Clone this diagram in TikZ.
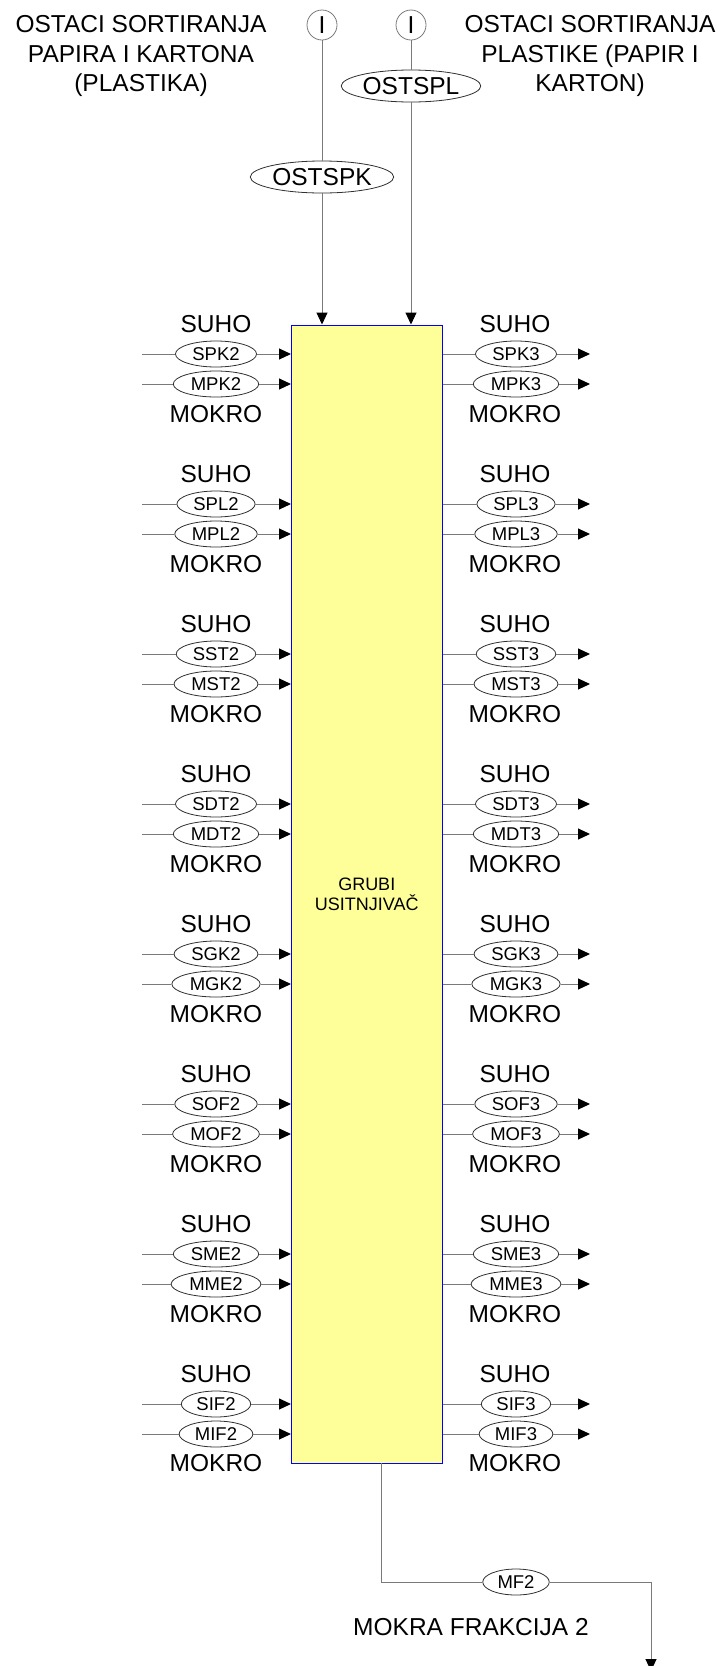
\documentclass[tikz,border=0pt]{standalone}
\usepackage{fontspec}
\setmainfont{Liberation Sans}
\usepackage{xcolor}
\usepackage{tikz}
\usetikzlibrary{arrows.meta,shapes.geometric}
\definecolor{flowgray}{HTML}{7A7A7A}
\definecolor{edge}{HTML}{303030}
\definecolor{boxfill}{HTML}{FFFF99}
\definecolor{boxblue}{HTML}{0000FF}

\begin{document}
\begin{tikzpicture}[x=1pt,y=-1pt,
   lbl/.style={inner sep=0pt,font=\fontsize{24.5}{29.5}\selectfont},
   tok/.style={draw=edge,ellipse,fill=white,line width=0.8pt,inner xsep=5pt,inner ysep=1pt,minimum height=26pt,font=\fontsize{18.5}{20}\selectfont},
   bigtok/.style={tok,inner xsep=1pt,minimum height=32pt,font=\fontsize{24.5}{28}\selectfont},
   src/.style={draw=flowgray,circle,line width=0.8pt,minimum size=30pt,inner sep=0pt,font=\fontsize{24.5}{28}\selectfont},
   con/.style={draw=flowgray,line width=1pt,-{Triangle[length=12pt,width=11pt,color=black]}}]
\useasboundingbox (0,0) rectangle (724,1666);
% shredder
\node[draw=boxblue,fill=boxfill,line width=1pt,inner sep=0pt,minimum width=150.5pt,minimum height=1138pt,align=center,font=\fontsize{18}{20}\selectfont] (box) at (366.75,894) {GRUBI\\USITNJIVAČ};
% sources on top
\node[lbl,align=center] (srcL) at (141,56) {OSTACI SORTIRANJA\\PAPIRA I KARTONA\\(PLASTIKA)};
\node[lbl,align=center] (srcR) at (590,56) {OSTACI SORTIRANJA\\PLASTIKE (PAPIR I\\KARTON)};
\node[src] (i1) at (322,25) {I};
\node[src] (i2) at (411,25) {I};
\node[bigtok] (ostspk) at (322,177) {OSTSPK};
\node[bigtok] (ostspl) at (411,86) {OSTSPL};
\draw[con] (i1) -- (ostspk) -- (i1 |- box.north);
\draw[con] (i2) -- (ostspl) -- (i2 |- box.north);
% papir i karton
\node[lbl] (suL1) at (216,324) {SUHO};  \node[lbl] (suR1) at (515,324) {SUHO};
\node[lbl] (moL1) at (216,414) {MOKRO}; \node[lbl] (moR1) at (515,414) {MOKRO};
\node[tok] (spk2) at (216,354) {SPK2}; \node[tok] (spk3) at (516,354) {SPK3};
\node[tok] (mpk2) at (216,384) {MPK2}; \node[tok] (mpk3) at (516,384) {MPK3};
\coordinate (a1) at (142,354); \coordinate (b1) at (142,384); \coordinate (c1) at (590,354); \coordinate (d1) at (590,384);
\draw[con] (a1) -- (spk2) -- (spk2 -| box.west); \draw[con] (b1) -- (mpk2) -- (mpk2 -| box.west);
\draw[con] (spk3 -| box.east) -- (spk3) -- (c1); \draw[con] (mpk3 -| box.east) -- (mpk3) -- (d1);
% plastika
\node[lbl] (suL2) at (216,474) {SUHO};  \node[lbl] (suR2) at (515,474) {SUHO};
\node[lbl] (moL2) at (216,564) {MOKRO}; \node[lbl] (moR2) at (515,564) {MOKRO};
\node[tok] (spl2) at (216,504) {SPL2}; \node[tok] (spl3) at (516,504) {SPL3};
\node[tok] (mpl2) at (216,534) {MPL2}; \node[tok] (mpl3) at (516,534) {MPL3};
\coordinate (a2) at (142,504); \coordinate (b2) at (142,534); \coordinate (c2) at (590,504); \coordinate (d2) at (590,534);
\draw[con] (a2) -- (spl2) -- (spl2 -| box.west); \draw[con] (b2) -- (mpl2) -- (mpl2 -| box.west);
\draw[con] (spl3 -| box.east) -- (spl3) -- (c2); \draw[con] (mpl3 -| box.east) -- (mpl3) -- (d2);
% staklo
\node[lbl] (suL3) at (216,624) {SUHO};  \node[lbl] (suR3) at (515,624) {SUHO};
\node[lbl] (moL3) at (216,714) {MOKRO}; \node[lbl] (moR3) at (515,714) {MOKRO};
\node[tok] (sst2) at (216,654) {SST2}; \node[tok] (sst3) at (516,654) {SST3};
\node[tok] (mst2) at (216,684) {MST2}; \node[tok] (mst3) at (516,684) {MST3};
\coordinate (a3) at (142,654); \coordinate (b3) at (142,684); \coordinate (c3) at (590,654); \coordinate (d3) at (590,684);
\draw[con] (a3) -- (sst2) -- (sst2 -| box.west); \draw[con] (b3) -- (mst2) -- (mst2 -| box.west);
\draw[con] (sst3 -| box.east) -- (sst3) -- (c3); \draw[con] (mst3 -| box.east) -- (mst3) -- (d3);
% drvo i tekstil
\node[lbl] (suL4) at (216,774) {SUHO};  \node[lbl] (suR4) at (515,774) {SUHO};
\node[lbl] (moL4) at (216,864) {MOKRO}; \node[lbl] (moR4) at (515,864) {MOKRO};
\node[tok] (sdt2) at (216,804) {SDT2}; \node[tok] (sdt3) at (516,804) {SDT3};
\node[tok] (mdt2) at (216,834) {MDT2}; \node[tok] (mdt3) at (516,834) {MDT3};
\coordinate (a4) at (142,804); \coordinate (b4) at (142,834); \coordinate (c4) at (590,804); \coordinate (d4) at (590,834);
\draw[con] (a4) -- (sdt2) -- (sdt2 -| box.west); \draw[con] (b4) -- (mdt2) -- (mdt2 -| box.west);
\draw[con] (sdt3 -| box.east) -- (sdt3) -- (c4); \draw[con] (mdt3 -| box.east) -- (mdt3) -- (d4);
% guma i koza
\node[lbl] (suL5) at (216,924) {SUHO};  \node[lbl] (suR5) at (515,924) {SUHO};
\node[lbl] (moL5) at (216,1014) {MOKRO}; \node[lbl] (moR5) at (515,1014) {MOKRO};
\node[tok] (sgk2) at (216,954) {SGK2}; \node[tok] (sgk3) at (516,954) {SGK3};
\node[tok] (mgk2) at (216,984) {MGK2}; \node[tok] (mgk3) at (516,984) {MGK3};
\coordinate (a5) at (142,954); \coordinate (b5) at (142,984); \coordinate (c5) at (590,954); \coordinate (d5) at (590,984);
\draw[con] (a5) -- (sgk2) -- (sgk2 -| box.west); \draw[con] (b5) -- (mgk2) -- (mgk2 -| box.west);
\draw[con] (sgk3 -| box.east) -- (sgk3) -- (c5); \draw[con] (mgk3 -| box.east) -- (mgk3) -- (d5);
% organska frakcija
\node[lbl] (suL6) at (216,1074) {SUHO};  \node[lbl] (suR6) at (515,1074) {SUHO};
\node[lbl] (moL6) at (216,1164) {MOKRO}; \node[lbl] (moR6) at (515,1164) {MOKRO};
\node[tok] (sof2) at (216,1104) {SOF2}; \node[tok] (sof3) at (516,1104) {SOF3};
\node[tok] (mof2) at (216,1134) {MOF2}; \node[tok] (mof3) at (516,1134) {MOF3};
\coordinate (a6) at (142,1104); \coordinate (b6) at (142,1134); \coordinate (c6) at (590,1104); \coordinate (d6) at (590,1134);
\draw[con] (a6) -- (sof2) -- (sof2 -| box.west); \draw[con] (b6) -- (mof2) -- (mof2 -| box.west);
\draw[con] (sof3 -| box.east) -- (sof3) -- (c6); \draw[con] (mof3 -| box.east) -- (mof3) -- (d6);
% metali
\node[lbl] (suL7) at (216,1224) {SUHO};  \node[lbl] (suR7) at (515,1224) {SUHO};
\node[lbl] (moL7) at (216,1314) {MOKRO}; \node[lbl] (moR7) at (515,1314) {MOKRO};
\node[tok] (sme2) at (216,1254) {SME2}; \node[tok] (sme3) at (516,1254) {SME3};
\node[tok] (mme2) at (216,1284) {MME2}; \node[tok] (mme3) at (516,1284) {MME3};
\coordinate (a7) at (142,1254); \coordinate (b7) at (142,1284); \coordinate (c7) at (590,1254); \coordinate (d7) at (590,1284);
\draw[con] (a7) -- (sme2) -- (sme2 -| box.west); \draw[con] (b7) -- (mme2) -- (mme2 -| box.west);
\draw[con] (sme3 -| box.east) -- (sme3) -- (c7); \draw[con] (mme3 -| box.east) -- (mme3) -- (d7);
% inertna frakcija
\node[lbl] (suL8) at (216,1374) {SUHO};  \node[lbl] (suR8) at (515,1374) {SUHO};
\node[lbl] (moL8) at (216,1463) {MOKRO}; \node[lbl] (moR8) at (515,1463) {MOKRO};
\node[tok] (sif2) at (216,1404) {SIF2}; \node[tok] (sif3) at (516,1404) {SIF3};
\node[tok] (mif2) at (216,1434) {MIF2}; \node[tok] (mif3) at (516,1434) {MIF3};
\coordinate (a8) at (142,1404); \coordinate (b8) at (142,1434); \coordinate (c8) at (590,1404); \coordinate (d8) at (590,1434);
\draw[con] (a8) -- (sif2) -- (sif2 -| box.west); \draw[con] (b8) -- (mif2) -- (mif2 -| box.west);
\draw[con] (sif3 -| box.east) -- (sif3) -- (c8); \draw[con] (mif3 -| box.east) -- (mif3) -- (d8);
% wet fraction out
\coordinate (out) at (381,1463);
\coordinate (sink) at (651,1671);
\node[tok] (mf2) at (516,1582) {MF2};
\node[lbl] (mfl) at (471,1627) {MOKRA FRAKCIJA 2};
\draw[con] (out) |- (mf2) -| (sink);
\end{tikzpicture}
\end{document}
